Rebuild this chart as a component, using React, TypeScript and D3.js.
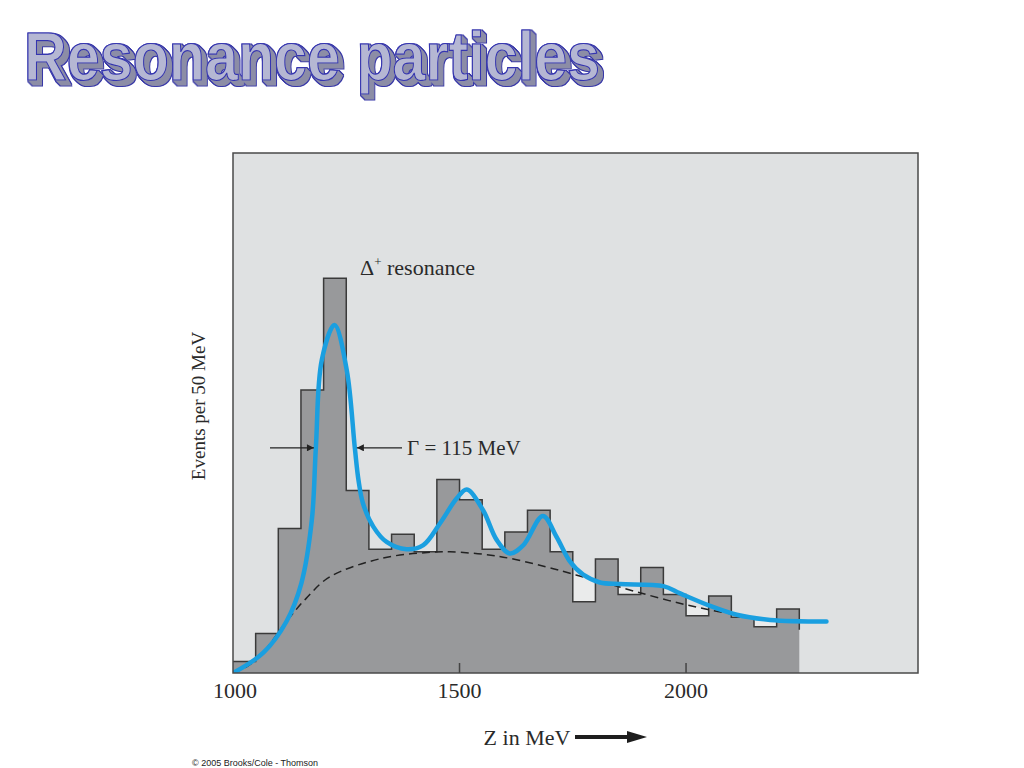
import React from "react";
import * as d3 from "d3";

// ---- data ----
const binStart = 1000;
const binWidth = 50;
const binCounts = [2.2, 7.6, 27.8, 54.4, 75.9, 35.1, 23.8, 26.7, 23.3, 37.2, 33.3, 23.8, 27.1, 31.3, 23.3, 13.7, 21.9, 15.1, 20.3, 15.1, 11.0, 14.8, 10.7, 8.9, 12.3];

// fitted curve (resonances + background)
const fitMeV = [1000, 1067, 1118, 1151, 1174, 1183, 1196, 1224, 1251, 1269, 1277, 1287, 1310, 1339, 1383, 1420, 1457, 1494, 1516, 1552, 1582, 1611, 1641, 1684, 1714, 1744, 1773, 1810, 1854, 1950, 1987, 2053, 2112, 2186, 2310];
const fitVal = [0, 3.9, 9.9, 17.3, 29.4, 43.5, 60.2, 66.9, 58.3, 43.2, 37.1, 32.6, 28.1, 25.2, 23.8, 24.6, 28.8, 33.6, 35.3, 31.3, 25.6, 23.0, 24.6, 30.2, 26.2, 21.4, 18.9, 17.4, 17.1, 16.7, 15.3, 12.9, 11.2, 10.2, 9.9];

// background (dashed)
const bgMeV = [1000, 1030, 1062, 1118, 1162, 1214, 1331, 1435, 1479, 1582, 1692, 1759, 1803, 1891, 2001, 2112, 2200, 2310];
const bgVal = [0, 1.2, 3.5, 9.9, 14.4, 18.5, 22.1, 23.2, 23.3, 22.5, 20.4, 18.8, 17.8, 15.6, 13.1, 11.2, 10.2, 10.0];

const xTicks = [1000, 1500, 2000];
const xDomain = [1000, 2512];
const yDomain = [0, 100];

const fwhmEdges = [1183, 1269];
const fwhmLevel = 43.3;

export default function App() {
  const W = 1024, H = 768;
  const left = 233, right = 918, top = 153, bottom = 673;
  const x = d3.scaleLinear().domain(xDomain).range([left, right]);
  const y = d3.scaleLinear().domain(yDomain).range([bottom, top]);

  const binEnd = binStart + binWidth * binCounts.length;

  const stepPts: [number, number][] = [];
  binCounts.forEach((c, i) => {
    stepPts.push([binStart + i * binWidth, c]);
    stepPts.push([binStart + (i + 1) * binWidth, c]);
  });
  const stepLine = d3.line<[number, number]>().x(d => x(d[0])).y(d => y(d[1]));
  const histArea = d3.area<[number, number]>().x(d => x(d[0])).y0(y(0)).y1(d => y(d[1]));
  const outlinePts: [number, number][] = [...stepPts, [binEnd, binCounts[binCounts.length - 1] - 4]];

  const fitPts = fitMeV.map((m, i) => [m, fitVal[i]] as [number, number]);
  const bgPts = bgMeV.map((m, i) => [m, bgVal[i]] as [number, number]);
  const smooth = d3.line<[number, number]>().x(d => x(d[0])).y(d => y(d[1])).curve(d3.curveCatmullRom.alpha(0.5));
  const bgArea = d3.area<[number, number]>().x(d => x(d[0])).y0(y(0)).y1(d => y(d[1])).curve(d3.curveCatmullRom.alpha(0.5));
  const bgInRange = bgPts.filter(d => d[0] <= binEnd);

  const serif = "'Liberation Serif', 'DejaVu Serif', serif";
  const textCol = "#2a2a2a";

  const title = "Resonance particles";
  const offsets = [1, 2, 3, 4, 5];

  const yArrow = y(fwhmLevel);

  return (
    <svg width={W} height={H} style={{ position: "absolute", left: 0, top: 0, background: "#fff" }}>
      <defs>
        <clipPath id="plotClip">
          <rect x={left} y={top} width={right - left} height={bottom - top} />
        </clipPath>
        <marker id="ah" viewBox="0 0 10 10" refX="10" refY="5" markerWidth="9" markerHeight="7" orient="auto" markerUnits="userSpaceOnUse">
          <path d="M0,0 L10,5 L0,10 z" fill="#222" />
        </marker>
        <filter id="wordart" x="-5%" y="-30%" width="115%" height="170%">
          {offsets.map(o => (
            <feOffset key={o} in="SourceAlpha" dx={o} dy={o} result={`o${o}`} />
          ))}
          <feMerge result="ext">
            {offsets.map(o => <feMergeNode key={o} in={`o${o}`} />)}
          </feMerge>
          <feMorphology in="ext" operator="dilate" radius="0.9" result="extD" />
          <feFlood floodColor="#3838a8" result="blue" />
          <feComposite in="blue" in2="extD" operator="in" result="extOutline" />
          <feFlood floodColor="#8c8da6" result="gray" />
          <feComposite in="gray" in2="ext" operator="in" result="extFill" />
          <feMerge>
            <feMergeNode in="extOutline" />
            <feMergeNode in="extFill" />
            <feMergeNode in="SourceGraphic" />
          </feMerge>
        </filter>
      </defs>

      {/* Title, WordArt-like */}
      <text x={24} y={80} textLength={576} lengthAdjust="spacingAndGlyphs"
        fontFamily="'Liberation Sans', Arial, sans-serif" fontWeight="bold" fontSize={68}
        fill="#b5b7d3" stroke="#3535b0" strokeWidth={1.2} filter="url(#wordart)">
        {title}
      </text>

      {/* plot background */}
      <rect x={left} y={top} width={right - left} height={bottom - top} fill="#dfe1e2" />

      <g clipPath="url(#plotClip)">
        <path d={bgArea(bgInRange) || ""} fill="#eaebeb" />
        <path d={histArea(stepPts) || ""} fill="#98999b" />
        <path d={stepLine(outlinePts) || ""} fill="none" stroke="#3a3a3a" strokeWidth={1.5} />
        <path d={smooth(bgPts) || ""} fill="none" stroke="#222" strokeWidth={1.5} strokeDasharray="8,5" />
        <path d={smooth(fitPts) || ""} fill="none" stroke="#1a9fe0" strokeWidth={4.5} strokeLinecap="round" />
      </g>

      {/* frame */}
      <rect x={left} y={top} width={right - left} height={bottom - top} fill="none" stroke="#4a4a4a" strokeWidth={1.5} />

      {/* x ticks */}
      {xTicks.map(t => (
        <g key={t}>
          {t !== xDomain[0] && <line x1={x(t)} x2={x(t)} y1={bottom} y2={bottom - 10} stroke="#444" strokeWidth={1.5} />}
          <text x={x(t) + (t === xDomain[0] ? 2 : 0)} y={bottom + 25} textAnchor="middle" fontFamily={serif} fontSize={22} fill={textCol}>{t}</text>
        </g>
      ))}

      {/* x label with arrow */}
      <text x={527} y={745} textAnchor="middle" fontFamily={serif} fontSize={22} fill={textCol}>Z in MeV</text>
      <line x1={575} x2={630} y1={737} y2={737} stroke="#1e1e1e" strokeWidth={4} />
      <path d="M627,731 L647,737 L627,743 z" fill="#1e1e1e" />

      {/* y label */}
      <text transform={`translate(205, ${406}) rotate(-90)`} textAnchor="middle" fontFamily={serif} fontSize={19} fill={textCol}>
        Events per 50 MeV
      </text>

      {/* annotations */}
      <text x={360} y={275} fontFamily={serif} fontSize={22} fill={textCol}>
        Δ<tspan fontSize={13} dy={-9}>+</tspan><tspan dy={9}> resonance</tspan>
      </text>
      <line x1={270} x2={x(fwhmEdges[0]) - 2} y1={yArrow} y2={yArrow} stroke="#222" strokeWidth={1.2} markerEnd="url(#ah)" />
      <line x1={402} x2={x(fwhmEdges[1]) + 2} y1={yArrow} y2={yArrow} stroke="#222" strokeWidth={1.2} markerEnd="url(#ah)" />
      <text x={407} y={yArrow + 7} fontFamily={serif} fontSize={21} fill={textCol}>Γ = 115 MeV</text>

      {/* copyright */}
      <text x={192} y={766} fontFamily="'Liberation Sans', Arial, sans-serif" fontSize={9} fill="#222">© 2005 Brooks/Cole - Thomson</text>
    </svg>
  );
}
